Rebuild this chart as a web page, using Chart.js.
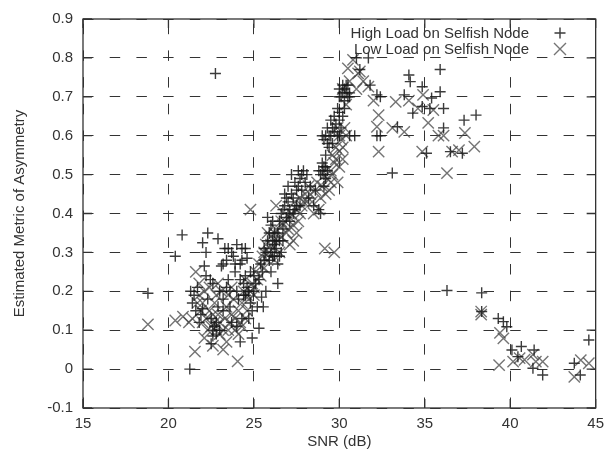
<!DOCTYPE html>
<html><head><meta charset="utf-8">
<script src="https://cdn.jsdelivr.net/npm/chart.js@4/dist/chart.umd.min.js"></script>
<style>html,body{margin:0;padding:0;background:#fff}</style>
</head><body>
<canvas id="c" width="611" height="457"></canvas>
<script>
const xTickLabels = ['15','20','25','30','35','40','45'];
const yTickLabels = ['-0.1','0','0.1','0.2','0.3','0.4','0.5','0.6','0.7','0.8','0.9'];
const seriesNames = ['High Load on Selfish Node','Low Load on Selfish Node'];
const xTitle = 'SNR (dB)';
const yTitle = 'Estimated Metric of Asymmetry';

// High load on selfish node: [SNR (dB), metric]
const highLoad = [
 [18.8,0.195],[20.4,0.29],[20.8,0.345],[21.25,0.0],[21.3,0.2],[21.4,0.17],
 [21.7,0.21],[21.8,0.12],[21.9,0.14],[22.0,0.325],[22.0,0.155],[22.1,0.265],[22.2,0.3],[22.3,0.35],
 [22.3,0.18],[22.45,0.23],[22.5,0.065],[22.6,0.085],[22.7,0.11],[22.75,0.76],[22.8,0.12],[22.9,0.335],
 [23.0,0.2],[23.0,0.1],[23.1,0.265],[23.2,0.15],[23.3,0.31],[23.4,0.28],[23.5,0.31],[23.5,0.23],
 [23.6,0.2],[23.7,0.12],[23.8,0.29],[23.9,0.25],[24.0,0.32],[24.0,0.11],[24.1,0.18],[24.2,0.07],
 [24.2,0.27],[24.3,0.28],[24.4,0.22],[24.5,0.31],[24.5,0.19],[24.6,0.285],[24.6,0.21],[24.7,0.13],
 [24.8,0.25],[24.8,0.17],[24.9,0.08],[25.0,0.2],[25.1,0.22],[25.2,0.16],[25.3,0.105],[25.45,0.185],
 [25.55,0.16],[23.9,0.27],[24.3,0.31],[22.6,0.22],
 [22.5,0.13],[22.8,0.09],[22.9,0.16],[23.2,0.18],[23.4,0.21],[23.6,0.16],[24.0,0.2],[24.2,0.23],
 [24.4,0.19],[24.5,0.24],[24.7,0.2],[24.9,0.15],[25.0,0.24],[24.3,0.13],[22.6,0.1],[21.6,0.15],
 [21.5,0.19],[22.2,0.24],[23.7,0.3],[23.2,0.27],
 [25.3,0.23],[25.5,0.25],[25.6,0.28],[25.7,0.3],[25.7,0.2],[25.8,0.33],[25.8,0.39],[25.9,0.35],
 [26.0,0.3],[26.0,0.37],[26.0,0.25],[26.1,0.33],[26.1,0.38],[26.2,0.29],[26.2,0.35],[26.3,0.31],
 [26.3,0.33],[26.4,0.27],[26.4,0.22],[26.5,0.33],[26.5,0.38],[26.6,0.4],[26.6,0.3],[26.7,0.36],
 [26.8,0.42],[26.8,0.45],[26.9,0.39],[27.0,0.43],[27.0,0.47],[27.1,0.41],[27.1,0.38],[27.2,0.5],
 [27.3,0.44],[27.3,0.4],[27.4,0.48],[27.5,0.46],[27.5,0.42],[27.6,0.51],[27.7,0.42],[27.8,0.5],
 [27.9,0.51],[28.0,0.48],[28.2,0.44],[28.5,0.42],[28.8,0.41],[28.9,0.4],[28.9,0.5],[29.0,0.51],
 [29.1,0.5],[29.1,0.52],[29.2,0.52],[29.2,0.49],[29.0,0.6],[29.1,0.59],[29.2,0.55],[29.2,0.6],
 [29.3,0.62],[29.4,0.6],[29.4,0.57],[29.5,0.64],[29.6,0.58],[29.6,0.62],[29.7,0.61],[29.8,0.63],
 [29.9,0.67],[30.0,0.64],[30.0,0.6],[30.1,0.62],[30.2,0.65],
 [25.4,0.27],[25.6,0.31],[25.9,0.28],[26.1,0.29],[26.2,0.32],[26.4,0.35],[26.5,0.29],[26.7,0.33],
 [26.7,0.41],[26.9,0.44],[27.0,0.4],[27.2,0.45],[27.4,0.41],[27.6,0.47],[27.7,0.49],[27.8,0.46],
 [28.1,0.5],[28.3,0.47],[28.6,0.46],[28.8,0.51],[29.0,0.53],[29.3,0.51],[29.1,0.47],[29.3,0.58],
 [29.5,0.6],[29.7,0.65],[29.9,0.6],
 [30.0,0.72],[30.1,0.7],[30.2,0.71],[30.3,0.72],[30.3,0.69],[30.4,0.71],[30.5,0.7],[30.5,0.73],
 [30.6,0.71],[30.0,0.66],[30.6,0.6],[30.9,0.6],[31.0,0.8],[31.2,0.77],[31.7,0.8],[31.8,0.73],
 [32.2,0.705],[32.4,0.7],[32.2,0.6],[32.4,0.6],[30.0,0.7],[30.2,0.73],[30.4,0.73],[30.6,0.7],[30.3,0.67],
 [33.1,0.504],[33.4,0.623],[33.8,0.705],[34.07,0.756],[34.15,0.739],[34.3,0.658],[34.85,0.726],
 [34.85,0.675],[35.1,0.555],[35.3,0.67],[35.4,0.697],[35.9,0.77],[35.9,0.713],[36.1,0.67],
 [36.1,0.62],[36.5,0.559],[37.2,0.555],[37.3,0.64],[38.0,0.653],[36.3,0.202],
 [38.33,0.196],[38.33,0.148],[39.3,0.13],[39.6,0.122],[39.8,0.109],[40.1,0.049],[40.45,0.032],
 [40.65,0.058],[41.4,0.049],[41.33,0.002],[41.9,-0.015],[43.75,0.015],[44.1,-0.015],[44.6,0.075]
];

// Low load on selfish node: [SNR (dB), metric]
const lowLoad = [
 [18.8,0.115],[20.4,0.125],[20.85,0.135],[21.2,0.12],[21.4,0.13],[21.55,0.045],[21.6,0.25],
 [21.8,0.22],[21.8,0.19],[21.9,0.15],[22.0,0.17],[22.1,0.08],[22.2,0.13],[22.3,0.1],[22.4,0.21],
 [22.5,0.11],[22.6,0.06],[22.7,0.17],[22.7,0.12],[22.8,0.11],[22.9,0.14],[23.0,0.09],[23.1,0.2],
 [23.2,0.05],[23.3,0.13],[23.4,0.16],[23.5,0.1],[23.6,0.12],[23.7,0.21],[23.8,0.18],[23.9,0.1],
 [24.05,0.02],[24.1,0.15],[24.2,0.12],[24.3,0.17],[24.4,0.2],[24.5,0.23],[24.6,0.15],[24.7,0.18],
 [24.8,0.41],[24.9,0.22],[25.0,0.19],[25.1,0.25],[25.3,0.27],[23.5,0.19],[22.9,0.22],
 [22.0,0.12],[22.4,0.15],[22.6,0.14],[22.8,0.19],[23.0,0.12],[23.2,0.1],[23.4,0.07],[23.7,0.14],
 [23.9,0.13],[24.1,0.09],[24.3,0.11],[24.5,0.13],[24.6,0.19],[24.8,0.2],[25.0,0.21],[25.2,0.23],
 [21.7,0.17],[22.1,0.2],
 [25.5,0.29],[25.6,0.26],[25.7,0.32],[25.8,0.35],[25.9,0.3],[26.0,0.34],[26.1,0.31],[26.2,0.28],
 [26.3,0.36],[26.3,0.42],[26.5,0.3],[26.6,0.34],[26.7,0.37],[26.8,0.38],[27.0,0.36],[27.1,0.32],
 [27.2,0.4],[27.3,0.33],[27.4,0.43],[27.5,0.41],[27.6,0.38],[27.7,0.44],[27.8,0.42],[28.0,0.45],
 [28.2,0.47],[28.4,0.43],[28.6,0.46],[28.8,0.41],[28.9,0.44],[29.15,0.31],[29.7,0.3],[29.3,0.49],
 [29.4,0.46],[29.5,0.51],[29.6,0.55],[29.7,0.53],[29.8,0.57],[29.9,0.48],[30.0,0.56],[30.1,0.59],
 [30.2,0.57],[30.3,0.62],[30.0,0.52],
 [25.4,0.24],[25.6,0.3],[25.8,0.28],[26.0,0.32],[26.2,0.35],[26.4,0.33],[26.6,0.38],[26.9,0.35],
 [27.1,0.39],[27.3,0.37],[27.5,0.35],[27.7,0.4],[27.9,0.43],[28.1,0.43],[28.3,0.45],[28.5,0.4],
 [28.7,0.48],[29.0,0.47],[29.2,0.45],[29.5,0.48],[29.6,0.5],[29.8,0.54],[30.0,0.6],[30.2,0.54],
 [30.4,0.6],[29.9,0.62],
 [30.2,0.72],[30.4,0.68],[30.5,0.773],[30.6,0.74],[30.8,0.795],[31.0,0.72],[31.1,0.76],[31.2,0.765],
 [31.4,0.74],[31.7,0.726],[32.0,0.69],[32.3,0.653],[32.2,0.623],[32.3,0.559],
 [33.1,0.62],[33.3,0.687],[33.8,0.61],[34.07,0.69],[34.6,0.67],[34.9,0.705],[34.85,0.559],
 [35.2,0.633],[35.5,0.666],[35.8,0.6],[36.1,0.6],[36.3,0.504],[36.6,0.559],[37.0,0.563],
 [37.35,0.607],[37.9,0.572],
 [38.3,0.148],[38.3,0.14],[39.4,0.093],[39.6,0.079],[39.35,0.01],[40.17,0.019],[40.55,0.028],
 [40.84,0.024],[41.33,0.037],[41.5,0.019],[41.9,0.019],[43.75,-0.02],[44.13,0.023],[44.6,0.015]
];

const FONT = "'Liberation Sans', Arial, Helvetica, sans-serif";
const TXT = '#333';
const highColor = 'rgba(25,25,25,0.85)';
const lowColor = 'rgba(70,70,70,0.75)';

const framePlugin = {
  id: 'frame',
  afterDatasetsDraw(chart) {
    const {ctx, chartArea: a, scales} = chart;
    ctx.save();
    ctx.strokeStyle = '#333';
    ctx.lineWidth = 1.3;
    ctx.setLineDash([]);
    ctx.strokeRect(a.left, a.top, a.right - a.left, a.bottom - a.top);
    const tl = 9;
    ctx.beginPath();
    scales.x.ticks.forEach(t => {
      const px = scales.x.getPixelForValue(t.value);
      ctx.moveTo(px, a.bottom); ctx.lineTo(px, a.bottom - tl);
      ctx.moveTo(px, a.top); ctx.lineTo(px, a.top + tl);
    });
    scales.y.ticks.forEach(t => {
      const py = scales.y.getPixelForValue(t.value);
      ctx.moveTo(a.left, py); ctx.lineTo(a.left + tl, py);
      ctx.moveTo(a.right, py); ctx.lineTo(a.right - tl, py);
    });
    ctx.stroke();
    ctx.restore();
  },
  afterDraw(chart) {
    const {ctx} = chart;
    ctx.save();
    ctx.font = '15px ' + FONT;
    ctx.fillStyle = TXT;
    ctx.textAlign = 'right';
    ctx.textBaseline = 'alphabetic';
    ctx.fillText(seriesNames[0], 529, 38);
    ctx.fillText(seriesNames[1], 529, 54);
    ctx.lineWidth = 1.4;
    ctx.strokeStyle = highColor;
    ctx.beginPath();
    ctx.moveTo(560, 33 - 5.5); ctx.lineTo(560, 33 + 5.5);
    ctx.moveTo(560 - 5.5, 33); ctx.lineTo(560 + 5.5, 33);
    ctx.stroke();
    ctx.strokeStyle = lowColor;
    ctx.beginPath();
    ctx.moveTo(560 - 6, 49 - 6); ctx.lineTo(560 + 6, 49 + 6);
    ctx.moveTo(560 - 6, 49 + 6); ctx.lineTo(560 + 6, 49 - 6);
    ctx.stroke();
    ctx.restore();
  }
};

new Chart(document.getElementById('c'), {
  type: 'scatter',
  data: {
    datasets: [
      {
        label: seriesNames[0],
        data: highLoad.map(p => ({x: p[0], y: p[1]})),
        pointStyle: 'cross',
        pointRadius: 5.5,
        pointBorderWidth: 1.4,
        pointBorderColor: highColor,
        pointBackgroundColor: highColor,
        clip: false
      },
      {
        label: seriesNames[1],
        data: lowLoad.map(p => ({x: p[0], y: p[1]})),
        pointStyle: 'crossRot',
        pointRadius: 8,
        pointBorderWidth: 1.4,
        pointBorderColor: lowColor,
        pointBackgroundColor: lowColor,
        clip: false
      }
    ]
  },
  options: {
    responsive: false,
    animation: false,
    devicePixelRatio: 1,
    layout: {padding: {top: 19, right: 11, bottom: 0, left: 0}},
    plugins: {legend: {display: false}, tooltip: {enabled: false}},
    scales: {
      x: {
        type: 'linear', min: 15, max: 45,
        ticks: {stepSize: 5, color: TXT, font: {family: FONT, size: 15}, padding: 7, maxRotation: 0,
          callback: (v) => { const i = Math.round((v - 15) / 5); return xTickLabels[i]; }},
        grid: {color: '#333', lineWidth: 1, drawTicks: false},
        border: {display: false, dash: [10.5, 16.2], dashOffset: 22},
        title: {display: true, text: xTitle, color: TXT, font: {family: FONT, size: 15}, padding: {top: 0, bottom: 6}},
        afterFit: (s) => { s.height = 49; }
      },
      y: {
        type: 'linear', min: -0.1, max: 0.9,
        ticks: {stepSize: 0.1, color: TXT, font: {family: FONT, size: 15}, padding: 10,
          callback: (v) => { const i = Math.round(v * 10) + 1; return yTickLabels[i]; }},
        grid: {color: '#333', lineWidth: 1, drawTicks: false},
        border: {display: false, dash: [10.5, 16.2], dashOffset: 0},
        title: {display: true, text: yTitle, color: TXT, font: {family: FONT, size: 15}, padding: {top: 11, bottom: 0}},
        afterFit: (s) => { s.width = 83; }
      }
    }
  },
  plugins: [framePlugin]
});
</script>
</body></html>
